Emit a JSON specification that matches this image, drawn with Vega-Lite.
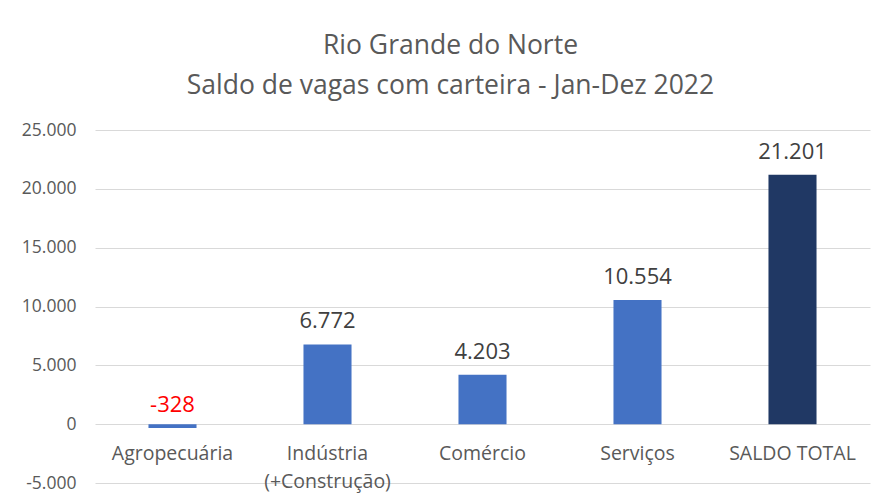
{
  "$schema": "https://vega.github.io/schema/vega-lite/v6.json",
  "autosize": "none",
  "width": 775,
  "height": 353,
  "padding": {"left": 95, "top": 130, "right": 8, "bottom": 16},
  "background": "white",
  "title": {
    "text": ["Rio Grande do Norte", "Saldo de vagas com carteira - Jan-Dez 2022"],
    "font": "Open Sans",
    "fontSize": 26.5,
    "fontWeight": "normal",
    "color": "#595959",
    "lineHeight": 40,
    "anchor": "middle",
    "dx": -32,
    "offset": 22
  },
  "config": {
    "locale": {"number": {"decimal": ",", "thousands": ".", "grouping": [3], "currency": ["R$", ""], "minus": "-"}},
    "view": {"stroke": null},
    "font": "Open Sans"
  },
  "data": {
    "values": [
      {"setor": "Agropecuária", "saldo": -328, "tipo": "setor"},
      {"setor": "Indústria\n(+Construção)", "saldo": 6772, "tipo": "setor"},
      {"setor": "Comércio", "saldo": 4203, "tipo": "setor"},
      {"setor": "Serviços", "saldo": 10554, "tipo": "setor"},
      {"setor": "SALDO TOTAL", "saldo": 21201, "tipo": "total"}
    ]
  },
  "encoding": {
    "x": {
      "field": "setor",
      "type": "nominal",
      "sort": null,
      "title": null,
      "scale": {"paddingInner": 0.69, "paddingOuter": 0.345},
      "axis": {
        "orient": "bottom",
        "offset": -58,
        "domain": false,
        "ticks": false,
        "labelAngle": 0,
        "labelFont": "Open Sans",
        "labelFontSize": 19.5,
        "labelColor": "#595959",
        "labelPadding": 19,
        "labelLineHeight": 28,
        "labelExpr": "split(datum.label, '\\n')"
      }
    },
    "y": {
      "field": "saldo",
      "type": "quantitative",
      "title": null,
      "scale": {"domain": [-5000, 25000], "nice": false, "zero": false},
      "axis": {
        "values": [-5000, 0, 5000, 10000, 15000, 20000, 25000],
        "format": ",d",
        "domain": false,
        "ticks": false,
        "grid": true,
        "gridColor": "#d9d9d9",
        "gridWidth": 1,
        "labelFont": "Open Sans",
        "labelFontSize": 17.5,
        "labelColor": "#595959",
        "labelPadding": 19
      }
    }
  },
  "layer": [
    {
      "mark": {"type": "bar"},
      "encoding": {
        "color": {
          "field": "tipo",
          "type": "nominal",
          "legend": null,
          "scale": {"domain": ["setor", "total"], "range": ["#4472C4", "#203864"]}
        }
      }
    },
    {
      "mark": {"type": "text", "font": "Open Sans", "fontSize": 22, "dy": -23, "baseline": "middle"},
      "encoding": {
        "text": {"field": "saldo", "type": "quantitative", "format": ",d"},
        "color": {
          "condition": {"test": "datum.saldo < 0", "value": "#FF0000"},
          "value": "#404040"
        }
      }
    }
  ]
}
